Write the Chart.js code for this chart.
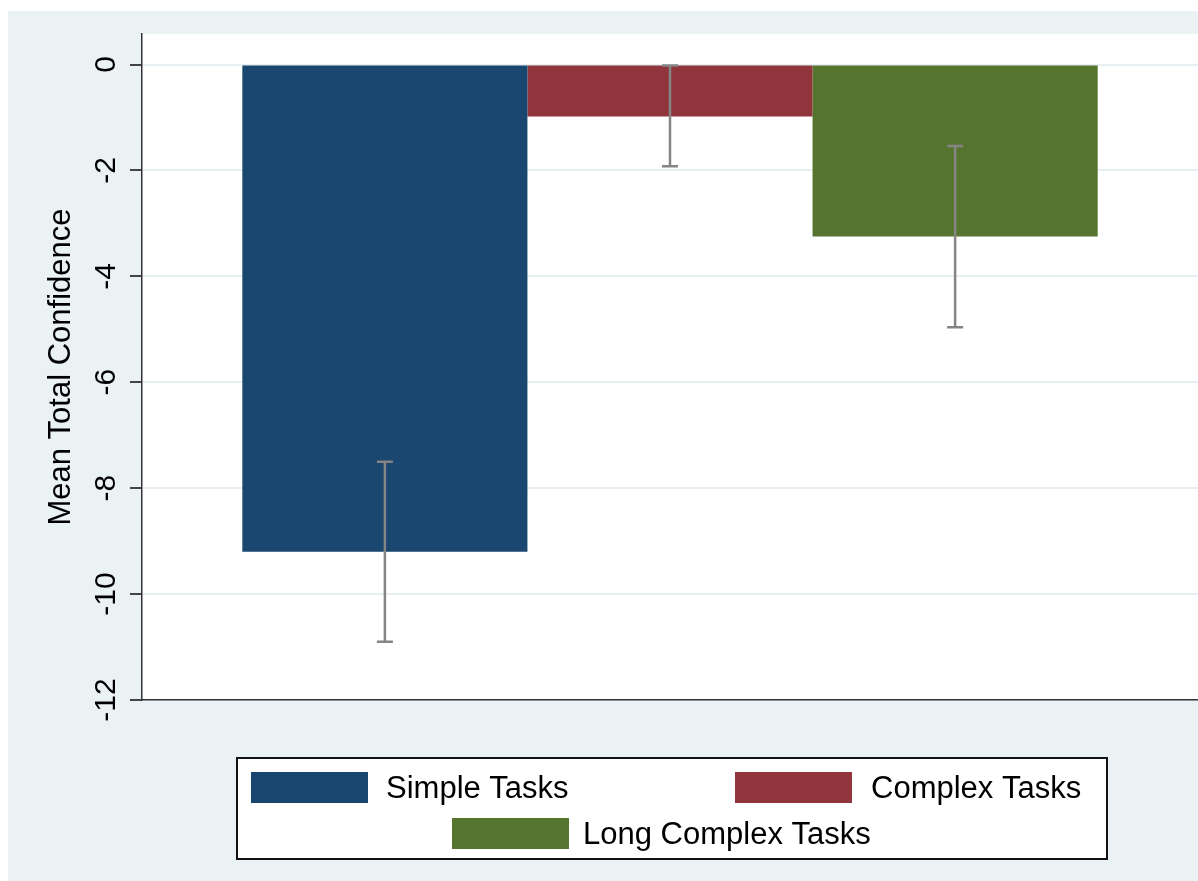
<!DOCTYPE html>
<html>
<head>
<meta charset="utf-8">
<script src="https://cdn.jsdelivr.net/npm/chart.js@4/dist/chart.umd.min.js"></script>
<style>
  body { margin: 0; background: #fff; }
  #wrap { position: absolute; left: 8px; top: 11px; width: 1190px; height: 870px; }
</style>
</head>
<body>
<div id="wrap"><canvas id="chart" width="1190" height="870"></canvas></div>
<script>
// --- Datos ---
const groups = ['Simple Tasks', 'Complex Tasks', 'Long Complex Tasks'];
const means = [-9.2, -0.98, -3.25];
const ciUpper = [-7.5, -0.02, -1.54];
const ciLower = [-10.9, -1.92, -4.96];
const barColors = ['#1a476f', '#90353b', '#55752f'];
const yTicks = [0, -2, -4, -6, -8, -10, -12];

const BG = '#eaf2f3';
const FONT = '"Liberation Sans", Arial, sans-serif';

// --- Fondo y area del grafico ---
const backgroundPlugin = {
    id: 'background',
    beforeDraw(chart) {
        const { ctx, chartArea: a } = chart;
        ctx.save();
        ctx.fillStyle = BG;
        ctx.fillRect(0, 0, chart.width, chart.height);
        ctx.fillStyle = '#fff';
        ctx.fillRect(a.left, a.top, a.right - a.left, a.bottom - a.top);
        ctx.restore();
    }
};

// --- Intervalos de confianza ---
const errorBarsPlugin = {
    id: 'errorBars',
    afterDatasetsDraw(chart) {
        const { ctx } = chart;
        const y = chart.scales.y;
        ctx.save();
        ctx.strokeStyle = '#858585';
        ctx.lineWidth = 2.5;
        chart.data.datasets.forEach((ds, i) => {
            const bar = chart.getDatasetMeta(i).data[0];
            const x = bar.x;
            const top = y.getPixelForValue(ciUpper[i]);
            const bot = y.getPixelForValue(ciLower[i]);
            ctx.beginPath();
            ctx.moveTo(x, top); ctx.lineTo(x, bot);
            ctx.moveTo(x - 8, top); ctx.lineTo(x + 8, top);
            ctx.moveTo(x - 8, bot); ctx.lineTo(x + 8, bot);
            ctx.stroke();
        });
        ctx.restore();
    }
};

// --- Leyenda en caja (2 filas) ---
const boxLegendPlugin = {
    id: 'boxLegend',
    afterDraw(chart) {
        const { ctx } = chart;
        const box = { x: 229, y: 747, w: 870, h: 101 };
        const items = [
            { x: 243, y: 761, text: 378 },
            { x: 727, y: 761, text: 863 },
            { x: 444, y: 807, text: 575 }
        ];
        ctx.save();
        ctx.fillStyle = '#fff';
        ctx.fillRect(box.x, box.y, box.w, box.h);
        ctx.strokeStyle = '#111';
        ctx.lineWidth = 2;
        ctx.strokeRect(box.x, box.y, box.w, box.h);
        ctx.font = '31px ' + FONT;
        ctx.textBaseline = 'middle';
        chart.data.datasets.forEach((ds, i) => {
            const it = items[i];
            ctx.fillStyle = ds.backgroundColor;
            ctx.fillRect(it.x, it.y, 117, 31);
            ctx.fillStyle = '#000';
            ctx.fillText(ds.label, it.text, it.y + 17);
        });
        ctx.restore();
    }
};

new Chart(document.getElementById('chart'), {
    type: 'bar',
    data: {
        labels: [''],
        datasets: groups.map((g, i) => ({
            label: g,
            data: [means[i]],
            backgroundColor: barColors[i],
            borderWidth: 0
        }))
    },
    options: {
        responsive: false,
        animation: false,
        categoryPercentage: 0.81,
        barPercentage: 1,
        layout: { padding: { top: 23, left: 0, right: -5, bottom: 181 } },
        plugins: {
            legend: { display: false },
            tooltip: { enabled: false }
        },
        scales: {
            x: {
                grid: { display: false, drawTicks: false },
                ticks: { display: false },
                border: { color: '#333', width: 1.5 },
                afterFit(scale) { scale.height = 0; }
            },
            y: {
                min: -12,
                max: 0.576,
                afterBuildTicks(scale) {
                    scale.ticks = yTicks.map(v => ({ value: v }));
                },
                afterFit(scale) { scale.width = 134; },
                grid: { color: '#e8eff2', lineWidth: 2, tickColor: '#444', tickLength: 12 },
                border: { color: '#333', width: 1.5 },
                ticks: {
                    minRotation: 90,
                    maxRotation: 90,
                    crossAlign: 'center',
                    padding: 2,
                    color: '#000',
                    font: { family: FONT, size: 30 }
                },
                title: {
                    display: true,
                    text: 'Mean Total Confidence',
                    color: '#000',
                    padding: { top: 35, bottom: 0 },
                    font: { family: FONT, size: 31 }
                }
            }
        }
    },
    plugins: [backgroundPlugin, errorBarsPlugin, boxLegendPlugin]
});
</script>
</body>
</html>
